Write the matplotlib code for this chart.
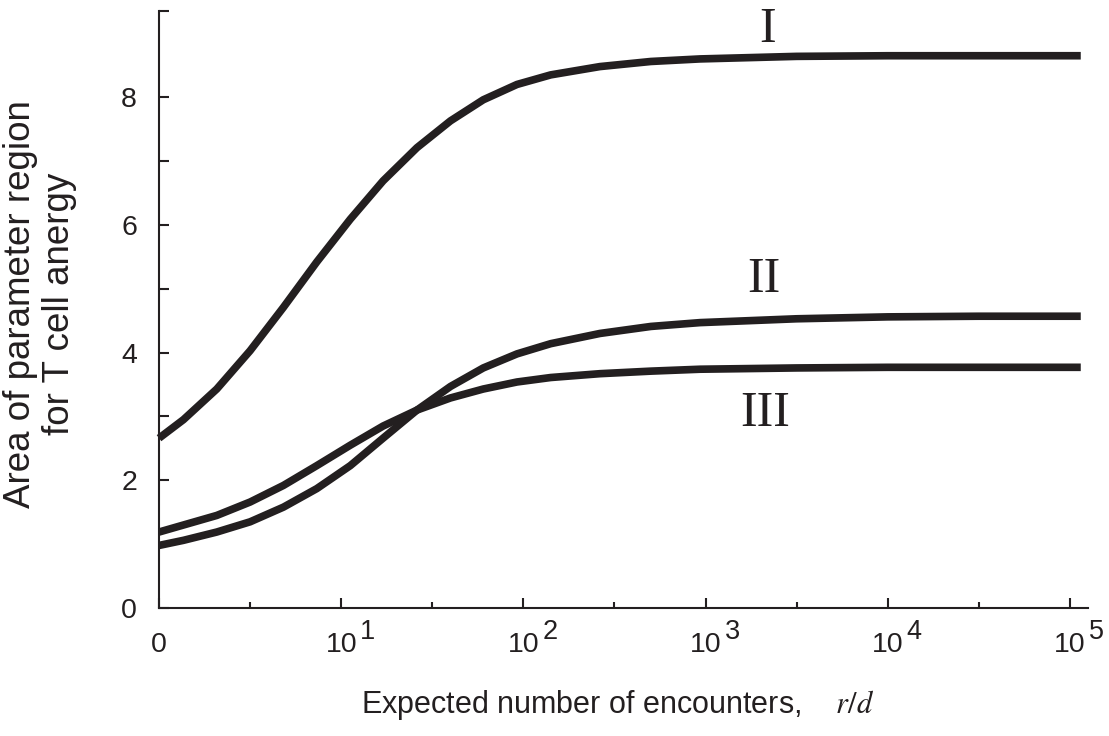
import matplotlib.pyplot as plt

plt.rcParams['font.family'] = 'Liberation Sans'

# positions on the x axis in decades (0 -> "0", 1 -> 10^1, ...)
decades = [0, 0.134, 0.317, 0.5, 0.683, 0.866, 1.05, 1.23, 1.416, 1.6,
           1.78, 1.965, 2.15, 2.42, 2.7, 2.97, 3.5, 4.0, 4.5, 5.06]

# area of the anergy region
area_I = [2.66, 2.95, 3.43, 4.03, 4.71, 5.42, 6.09, 6.69, 7.21, 7.63,
          7.96, 8.20, 8.35, 8.48, 8.56, 8.60, 8.64, 8.65, 8.65, 8.65]
area_II = [0.98, 1.06, 1.19, 1.35, 1.58, 1.87, 2.23, 2.66, 3.10, 3.47,
           3.76, 3.98, 4.14, 4.30, 4.41, 4.47, 4.53, 4.56, 4.57, 4.57]
area_III = [1.19, 1.30, 1.45, 1.66, 1.92, 2.23, 2.55, 2.85, 3.10, 3.29,
            3.43, 3.54, 3.61, 3.67, 3.71, 3.74, 3.76, 3.77, 3.77, 3.77]

curve_labels = ['I', 'II', 'III']
label_x = [3.34, 3.32, 3.33]
label_y = [9.05, 5.135, 3.05]

xtick_pos = [0, 1, 2, 3, 4, 5]
xtick_base = ['0', '10', '10', '10', '10', '10']
xtick_exp = ['', '1', '2', '3', '4', '5']
xminor_pos = [0.5, 1.5, 2.5, 3.5, 4.5]
ytick_pos = [0, 2, 4, 6, 8]
yminor_pos = [1, 3, 5, 7, 9.35]

ink = '#231f20'

fig = plt.figure(figsize=(11.09, 7.36), dpi=100)
ax = fig.add_axes([0.1434, 0.1739, 0.8377, 0.8111])

for ys in (area_I, area_II, area_III):
    ax.plot(decades, ys, color=ink, lw=5.5, solid_capstyle='butt',
            solid_joinstyle='round', clip_on=False)

for txt, lx, ly in zip(curve_labels, label_x, label_y):
    ax.text(lx, ly, txt, family='Liberation Serif', fontsize=36, color=ink,
            ha='center', va='center')

ax.set_xlim(0, 5.1)
ax.set_ylim(0, 9.35)

ax.set_xticks(xtick_pos)
ax.set_xticklabels([''] * len(xtick_pos))
ax.set_xticks(xminor_pos, minor=True)
ax.set_yticks(ytick_pos)
ax.set_yticks(yminor_pos, minor=True)

# x tick labels: "10" centred on the tick, exponent written beside it
for pos, base, ex in zip(xtick_pos, xtick_base, xtick_exp):
    ax.annotate(base, (pos, 0), xycoords=('data', 'axes fraction'),
                xytext=(0, -44), textcoords='offset pixels',
                ha='center', va='baseline', fontsize=20.5, color=ink,
                annotation_clip=False)
    if ex:
        ax.annotate(ex, (pos, 0), xycoords=('data', 'axes fraction'),
                    xytext=(19, -31), textcoords='offset pixels',
                    ha='left', va='baseline', fontsize=19.5, color=ink,
                    annotation_clip=False)

for side in ['top', 'right']:
    ax.spines[side].set_visible(False)
for side in ['left', 'bottom']:
    ax.spines[side].set_linewidth(1.5)
    ax.spines[side].set_color(ink)

ax.tick_params(axis='both', which='both', direction='in', width=1.5, color=ink,
               labelsize=20.5, labelcolor=ink)
ax.tick_params(axis='x', which='major', length=7.5)
ax.tick_params(axis='x', which='minor', length=4.5)
ax.tick_params(axis='y', which='both', length=7.5, pad=15.8)

fig.text(618 / 1109, 1 - 713 / 736, 'Expected number of encounters,    $r/d$',
         fontsize=22, color=ink, ha='center', va='baseline', math_fontfamily='stix')
fig.text(40 / 1109, 1 - 304 / 736, 'Area of parameter region\nfor T cell anergy',
         fontsize=26.5, color=ink, ha='center', va='center', rotation=90,
         multialignment='center', linespacing=1.15)

fig.savefig('out.png', dpi=100)
